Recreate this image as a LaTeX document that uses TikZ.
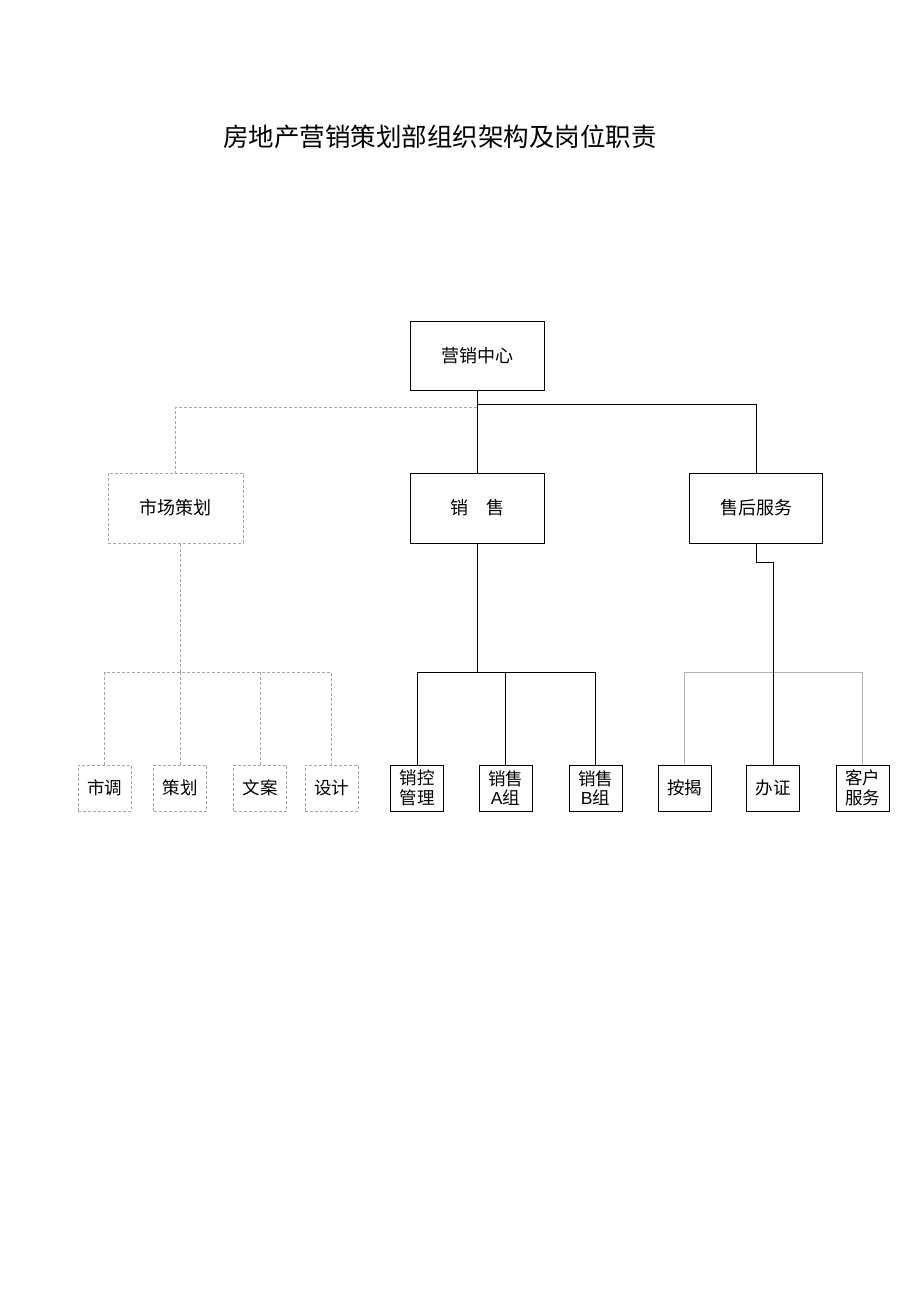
\documentclass[tikz,border=0pt]{standalone}
\usepackage{fontspec}
\setmainfont{Liberation Sans}
\newfontfamily\cjk{Noto Sans CJK SC}
\usepackage{tikz}
\tikzstyle{unit} = [draw=black, line width=1pt, rectangle, inner sep=0pt, align=center, font=\cjk\fontsize{18}{20}\selectfont]
\tikzstyle{plan} = [unit, draw=gray!70, densely dashed]
\tikzstyle{small} = [font=\cjk\fontsize{17.5}{19.5}\selectfont]
\tikzstyle{link} = [draw=black, line width=1pt]
\tikzstyle{dlink} = [draw=gray!70, line width=1pt, densely dashed]

\begin{document}
\begin{tikzpicture}[x=1pt,y=-1pt]
\useasboundingbox (0,0) rectangle (920,1303);
\node [font=\cjk\fontsize{25.5}{28}\selectfont] (title) at (440,137) {房地产营销策划部组织架构及岗位职责};
% top levels
\node [unit, minimum width=134pt, minimum height=69pt] (center) at (477,355.5) {营销中心};
\node [plan, minimum width=135pt, minimum height=70pt] (market) at (175.5,508) {市场策划};
\node [unit, minimum width=134pt, minimum height=70pt] (sales) at (477,508) {销\quad 售};
\node [unit, minimum width=133pt, minimum height=70pt] (after) at (756,508) {售后服务};
% bottom row
\foreach \name/\x/\txt/\sty in {dy/104.5/市调/plan, ch/180/策划/plan, wa/260/文案/plan, sj/331.5/设计/plan,
  xk/417/销控\\管理/unit, xa/505.5/销售\\{\rmfamily A}组/unit, xb/595.5/销售\\{\rmfamily B}组/unit,
  aj/684.5/按揭/unit, bz/773/办证/unit, kh/862.5/客户\\服务/unit}
  \node [\sty, small, minimum width=53pt, minimum height=46pt] (\name) at (\x,788) {\txt};
% connectors
\coordinate (c1) at (477,407);
\coordinate (c2) at (477,404);
\draw [dlink] (c1) -| (market.north);
\draw [link] (center.south) -- (sales.north);
\draw [link] (c2) -| (after.north);
\coordinate (m1) at (180,672);
\draw [dlink] (market.south -| m1) -- (m1);
\draw [dlink] (dy.north) |- (sj.north |- m1) -- (sj.north);
\draw [dlink] (m1) -- (ch.north);
\draw [dlink] (wa.north |- m1) -- (wa.north);
\coordinate (s1) at (477,672);
\draw [link] (sales.south) -- (s1);
\draw [link] (xk.north) |- (xb.north |- s1) -- (xb.north);
\draw [link] (xa.north |- s1) -- (xa.north);
\coordinate (a1) at (756,562);
\draw [draw=gray!60, line width=1pt] (aj.north) |- (kh.north |- s1) -- (kh.north);
\draw [link] (after.south) -- (a1) -| (bz.north);
\end{tikzpicture}
\end{document}
